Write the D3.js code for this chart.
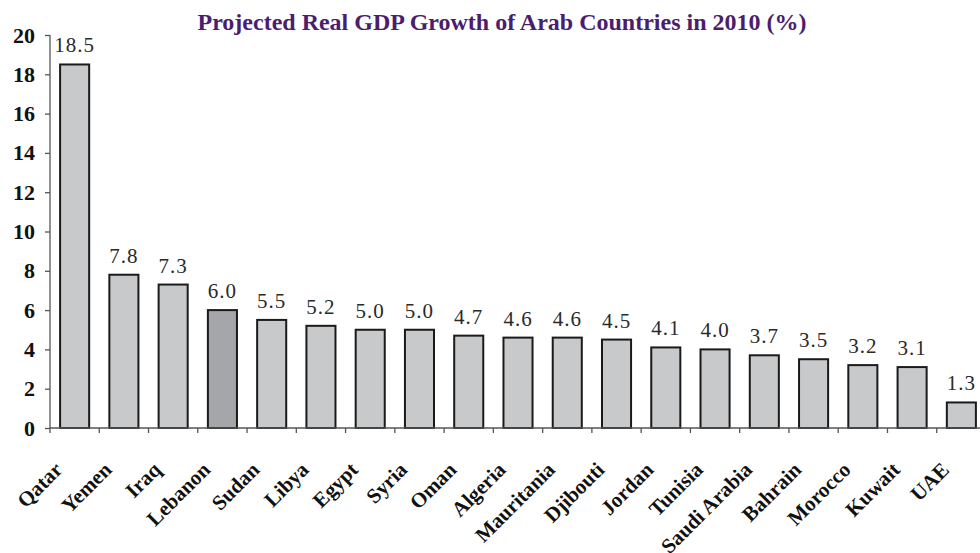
<!DOCTYPE html>
<html>
<head>
<meta charset="utf-8">
<script src="https://cdn.jsdelivr.net/npm/d3@7"></script>
<style>
  html, body { margin: 0; padding: 0; background: #fff; }
  svg { display: block; }
</style>
</head>
<body>
<svg id="chart" width="980" height="553"></svg>
<script>
// Projected real GDP growth, 2010 (%)
const countries = ["Qatar", "Yemen", "Iraq", "Lebanon", "Sudan", "Libya", "Egypt", "Syria", "Oman",
  "Algeria", "Mauritania", "Djibouti", "Jordan", "Tunisia", "Saudi Arabia", "Bahrain", "Morocco", "Kuwait", "UAE"];
const growth = [18.5, 7.8, 7.3, 6.0, 5.5, 5.2, 5.0, 5.0, 4.7, 4.6, 4.6, 4.5, 4.1, 4.0, 3.7, 3.5, 3.2, 3.1, 1.3];
const highlighted = ["Lebanon"];
const yTicks = [0, 2, 4, 6, 8, 10, 12, 14, 16, 18, 20];

const svg = d3.select("#chart");
const plotLeft = 50, plotRight = 986, plotTop = 35, plotBottom = 428;

const x = d3.scaleBand().domain(countries).range([plotLeft, plotRight])
  .paddingInner(0.41).paddingOuter(0.205);
const y = d3.scaleLinear().domain([0, 20]).range([plotBottom, plotTop]);

const serif = "'Liberation Serif', 'Times New Roman', serif";

// title
svg.append("text")
  .attr("x", 502).attr("y", 30)
  .attr("text-anchor", "middle")
  .attr("font-family", serif).attr("font-weight", "bold").attr("font-size", 24)
  .attr("fill", "#4b1d6f")
  .text("Projected Real GDP Growth of Arab Countries in 2010 (%)");

// bars
svg.append("g").selectAll("rect").data(countries).join("rect")
  .attr("x", d => x(d))
  .attr("width", x.bandwidth())
  .attr("y", (d, i) => y(growth[i]))
  .attr("height", (d, i) => y(0) - y(growth[i]))
  .attr("fill", d => highlighted.includes(d) ? "#a5a6a9" : "#c8c9cb")
  .attr("stroke", "#1a1a1a").attr("stroke-width", 2);

// value labels
svg.append("g").selectAll("text").data(countries).join("text")
  .attr("x", d => x(d) + x.bandwidth() / 2)
  .attr("y", (d, i) => y(growth[i]) - 12)
  .attr("text-anchor", "middle")
  .attr("font-family", serif).attr("font-size", 21).attr("letter-spacing", 1)
  .attr("fill", "#2a2a2a")
  .text((d, i) => growth[i].toFixed(1));

// y axis
const yAxis = svg.append("g").attr("transform", `translate(${plotLeft},0)`)
  .call(d3.axisLeft(y).tickValues(yTicks).tickSize(5).tickPadding(10).tickFormat(d3.format("d")));
yAxis.select(".domain").attr("stroke", "#555").attr("stroke-width", 1.3).attr("d", `M0,${plotBottom}V${plotTop}`);
yAxis.selectAll(".tick line").attr("stroke", "#555").attr("stroke-width", 1.3);
yAxis.selectAll(".tick text")
  .attr("font-family", serif).attr("font-weight", "bold").attr("font-size", 22).attr("fill", "#111");

// x axis: baseline with ticks between categories
const xg = svg.append("g");
xg.append("line").attr("x1", plotLeft).attr("x2", 980).attr("y1", plotBottom).attr("y2", plotBottom)
  .attr("stroke", "#555").attr("stroke-width", 1.3);
const step = x.step();
const boundaries = countries.map((d, i) => plotLeft + i * step);
xg.selectAll("line.tk").data(boundaries).join("line").attr("class", "tk")
  .attr("x1", d => d).attr("x2", d => d).attr("y1", plotBottom).attr("y2", plotBottom + 5)
  .attr("stroke", "#555").attr("stroke-width", 1.3);

// rotated category labels
xg.selectAll("text").data(countries).join("text")
  .attr("transform", d => `translate(${x(d) + x.bandwidth() / 2 - 11},${plotBottom + 43}) rotate(-45)`)
  .attr("text-anchor", "end")
  .attr("font-family", serif).attr("font-weight", "bold").attr("font-size", 21)
  .attr("fill", "#111")
  .text(d => d);
</script>
</body>
</html>
